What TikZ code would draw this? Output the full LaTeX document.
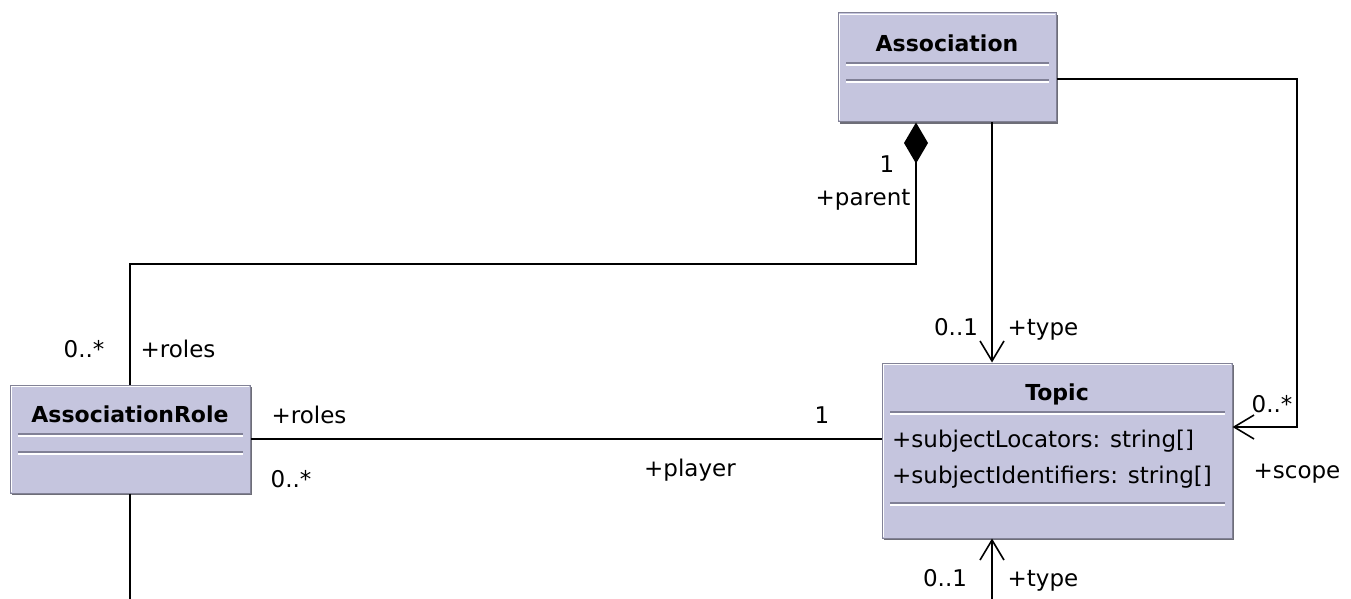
\documentclass[tikz,border=0pt]{standalone}
\usepackage{fontspec}
\setmainfont{DejaVu Sans}
\usetikzlibrary{arrows.meta,shadows}
\definecolor{boxfill}{RGB}{197,197,222}
\definecolor{boxline}{RGB}{130,130,150}
\definecolor{sepdark}{RGB}{128,128,150}
\definecolor{shadowc}{RGB}{110,110,120}
\newcommand\etchline[3]{%
  \draw[sepdark,line width=1.2pt] (#1,#3) -- (#2,#3);
  \draw[white,line width=1.2pt] (#1,#3+2) -- (#2,#3+2);}
\begin{document}
\begin{tikzpicture}[x=1pt,y=-1pt,
  umlbox/.style={draw=boxline, fill=boxfill, line width=1pt, inner sep=0pt,
    drop shadow={shadow xshift=2pt,shadow yshift=-2pt,fill=shadowc,opacity=1}},
  highlight/.style={white, line width=1pt},
  title/.style={font=\bfseries\fontsize{22}{26}\selectfont, anchor=base, inner sep=0pt},
  lbl/.style={font=\fontsize{23}{27}\selectfont, anchor=base, inner sep=0pt},
  attr/.style={lbl, anchor=base west},
  conn/.style={line width=1.6pt, black},
  navarrow/.style={conn, -{Straight Barb[length=20pt,width=24pt]}},
  composite/.style={conn, -{Diamond[length=41pt,width=24pt,fill=black]}}]
\useasboundingbox (0,0) rectangle (1351,599);

% boxes
\node[umlbox, minimum width=218pt, minimum height=109pt] (assoc) at (947,67.5) {};
\node[umlbox, minimum width=350pt, minimum height=175pt] (topic) at (1057,450.5) {};
\node[umlbox, minimum width=240pt, minimum height=108pt] (role) at (130,439) {};
\draw[highlight] ([shift={(2,-2)}]assoc.south west) |- ([shift={(-2,2)}]assoc.north east);
\draw[highlight] ([shift={(2,-2)}]topic.south west) |- ([shift={(-2,2)}]topic.north east);
\draw[highlight] ([shift={(2,-2)}]role.south west) |- ([shift={(-2,2)}]role.north east);

% Association contents
\node[title] (assocT) at (947,52) {Association};
\etchline{846}{1049}{63}
\etchline{846}{1049}{80}

% Topic contents
\node[title] (topicT) at (1057,400) {Topic};
\etchline{890}{1225}{412}
\node[attr] (attr1) at (892,447) {+subjectLocators: string[]};
\node[attr] (attr2) at (892,483) {+subjectIdentifiers: string[]};
\etchline{890}{1225}{503}

% AssociationRole contents
\node[title] (roleT) at (130,422) {AssociationRole};
\etchline{18}{243}{434}
\etchline{18}{243}{452}

% connectors
\coordinate (bend) at (916,264);
\draw[composite] (role.north) |- (bend) -- (bend |- assoc.south);

\coordinate (typeTop) at (992,0);
\draw[navarrow] (typeTop |- assoc.south) -- (typeTop |- topic.north);

\coordinate (sc1) at (1297,79);
\coordinate (sc2) at (1297,427);
\draw[navarrow] (sc1 -| assoc.east) -- (sc1) -- (sc2) -- (sc2 -| topic.east);

\draw[conn] (role.east) -- (role.east -| topic.west);

\coordinate (roleEnd) at (130,599);
\draw[conn] (role.south) -- (roleEnd);

\coordinate (typeBot) at (992,599);
\draw[navarrow] (typeBot) -- (typeBot |- topic.south);

% labels
\node[lbl] (l1) at (887,172) {1};
\node[lbl] (lparent) at (863,205) {+parent};
\node[lbl] (l01a) at (956,335) {0..1};
\node[lbl] (ltypea) at (1043,335) {+type};
\node[lbl] (lscm) at (1272,412) {0..*};
\node[lbl] (lscope) at (1297,478) {+scope};
\node[lbl] (l01b) at (945,586) {0..1};
\node[lbl] (ltypeb) at (1043,586) {+type};
\node[lbl] (lrm) at (84,357) {0..*};
\node[lbl] (lroles1) at (178,357) {+roles};
\node[lbl] (lroles2) at (309,423) {+roles};
\node[lbl] (lrm2) at (291,487) {0..*};
\node[lbl] (lone) at (822,423) {1};
\node[lbl] (lplayer) at (690,476) {+player};
\end{tikzpicture}
\end{document}
